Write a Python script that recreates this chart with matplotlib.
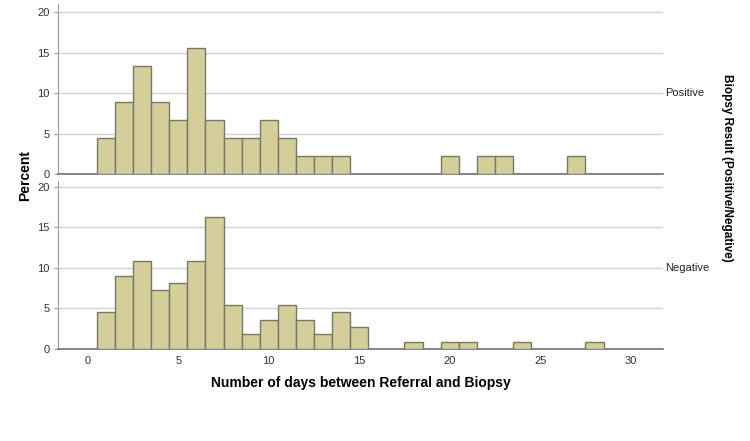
import matplotlib.pyplot as plt
import numpy as np

plt.rcParams['font.family'] = ['Liberation Sans', 'DejaVu Sans']

# days between referral and biopsy (bin centres) and percent per bin
pos_days = [1, 2, 3, 4, 5, 6, 7, 8, 9, 10, 11, 12, 13, 14, 20, 22, 23, 27]
pos_pct = [4.44, 8.89, 13.33, 8.89, 6.67, 15.56, 6.67, 4.44, 4.44, 6.67,
           4.44, 2.22, 2.22, 2.22, 2.22, 2.22, 2.22, 2.22]

neg_days = [1, 2, 3, 4, 5, 6, 7, 8, 9, 10, 11, 12, 13, 14, 15, 18, 20, 21, 24, 28]
neg_pct = [4.50, 9.01, 10.81, 7.21, 8.11, 10.81, 16.22, 5.41, 1.80, 3.60,
           5.41, 3.60, 1.80, 4.50, 2.70, 0.90, 0.90, 0.90, 0.90, 0.90]

panels = ["Positive", "Negative"]
yticks = [0, 5, 10, 15, 20]
xticks = [0, 5, 10, 15, 20, 25, 30]

bar_col = "#d4cf9a"
edge_col = "#77776a"

fig = plt.figure(figsize=(7.5, 4.41), dpi=100)
ax1 = fig.add_axes([0.0773, 0.6054, 0.807, 0.3855])
ax2 = fig.add_axes([0.0773, 0.2086, 0.807, 0.381])

for ax, days, pct, name in [(ax1, pos_days, pos_pct, panels[0]),
                            (ax2, neg_days, neg_pct, panels[1])]:
    ax.bar(days, pct, width=1.0, color=bar_col, edgecolor=edge_col,
           linewidth=1.0, zorder=3)
    ax.set_xlim(-1.65, 31.8)
    ax.set_ylim(0, 21)
    ax.set_yticks(yticks)
    ax.grid(axis="y", color="#d2d2d2", linewidth=1.0, zorder=0)
    for s in ["top", "right"]:
        ax.spines[s].set_visible(False)
    ax.spines["left"].set_color("#9a9a9a")
    ax.spines["bottom"].set_color("#707070")
    ax.spines["bottom"].set_linewidth(1.2)
    ax.tick_params(axis="y", labelsize=8, labelcolor="#333333",
                   length=3, color="#9a9a9a", pad=3)
    ax.tick_params(axis="x", labelsize=8, labelcolor="#333333",
                   length=0, pad=5)
    ax.text(1.003, 10, name, transform=ax.get_yaxis_transform(),
            fontsize=8, color="#222222", va="center", ha="left")

ax1.set_xticks([])
ax2.set_xticks(xticks)
ax2.set_ylim(0, 20.7)

fig.text(0.034, 0.601, "Percent", rotation=90, fontsize=10,
         fontweight="bold", va="center", ha="center")
fig.text(0.481, 0.132, "Number of days between Referral and Biopsy",
         fontsize=10, fontweight="bold", va="center", ha="center")
fig.text(0.969, 0.619, "Biopsy Result (Positive/Negative)", rotation=-90,
         fontsize=8.5, fontweight="bold", va="center", ha="center")

fig.savefig("out.png", dpi=100)
